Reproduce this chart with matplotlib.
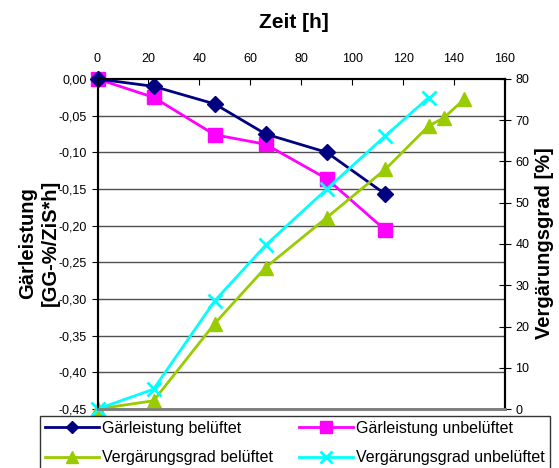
import matplotlib
matplotlib.use("Agg")
import matplotlib.pyplot as plt
from matplotlib.ticker import FuncFormatter, MultipleLocator

plt.rcParams['font.family'] = ['Liberation Sans', 'DejaVu Sans']

# Zeitpunkte [h]
zeit_gl = [0, 22, 46, 66, 90, 113]
gl_belueftet = [0.0, -0.010, -0.034, -0.075, -0.100, -0.157]
gl_unbelueftet = [0.0, -0.025, -0.076, -0.089, -0.136, -0.206]

zeit_vg_bel = [0, 22, 46, 66, 90, 113, 130, 136, 144]
vg_belueftet = [0.0, 2.0, 20.7, 34.3, 46.4, 58.1, 68.6, 70.6, 75.1]

zeit_vg_unbel = [0, 22, 46, 66, 90, 113, 130]
vg_unbelueftet = [0.0, 4.8, 26.2, 39.7, 53.3, 66.2, 75.5]

W, H = 559, 468
fig = plt.figure(figsize=(W / 100, H / 100), dpi=100)
ax = fig.add_axes([97.5 / W, 1 - 409 / H, (505 - 97.5) / W, (409 - 79) / H])
ax2 = ax.twinx()

# Gitterlinien
for y in [-0.05 * i for i in range(1, 10)]:
    ax.axhline(y, color='#505050', lw=1.0, zorder=0)

l1, = ax.plot(zeit_gl, gl_belueftet, color='#000080', lw=2, marker='D',
              ms=8, clip_on=False, zorder=3)
l2, = ax.plot(zeit_gl, gl_unbelueftet, color='#FF00FF', lw=2, marker='s',
              ms=10, clip_on=False, zorder=2)
l3, = ax2.plot(zeit_vg_bel, vg_belueftet, color='#99CC00', lw=2, marker='^',
               ms=10, clip_on=False)
l4, = ax2.plot(zeit_vg_unbel, vg_unbelueftet, color='#00FFFF', lw=2, marker='x',
               ms=10, mew=2, clip_on=False)

ax.set_xlim(0, 160)
ax.set_ylim(-0.45, 0.0)
ax2.set_ylim(0, 80)

ax.xaxis.tick_top()
ax.xaxis.set_major_locator(MultipleLocator(20))
ax.yaxis.set_major_locator(MultipleLocator(0.05))
ax.yaxis.set_major_formatter(FuncFormatter(lambda v, p: f"{v:.2f}".replace('.', ',')))
ax2.yaxis.set_major_locator(MultipleLocator(10))

ax.tick_params(axis='x', direction='in', length=4, labelsize=9, pad=10)
ax.tick_params(axis='y', direction='out', length=4, labelsize=9)
ax2.tick_params(axis='y', direction='inout', length=8, labelsize=9)

for a in (ax, ax2):
    a.spines['bottom'].set_color('#808080')
    a.spines['bottom'].set_linewidth(2)
    a.spines['left'].set_linewidth(1.5)
    a.spines['right'].set_linewidth(1.5)
    a.spines['top'].set_linewidth(1.5)

# Achsentitel
fig.text(294 / W, 1 - 22 / H, 'Zeit [h]', fontsize=15, fontweight='bold',
         ha='center', va='center')
fig.text(39 / W, 1 - 243 / H, 'Gärleistung\n[GG-%/ZiS*h]', fontsize=14.5,
         fontweight='bold', rotation=90, ha='center', va='center',
         linespacing=1.3, multialignment='center')
fig.text(545 / W, 1 - 243 / H, 'Vergärungsgrad [%]', fontsize=14.5,
         fontweight='bold', rotation=90, ha='center', va='center')

# Legende zeilenweise: matplotlib füllt spaltenweise
leg = fig.legend([l1, l3, l2, l4],
                 ['Gärleistung belüftet', 'Vergärungsgrad belüftet',
                  'Gärleistung unbelüftet', 'Vergärungsgrad unbelüftet'],
                 loc='upper left', bbox_to_anchor=(40 / W, 1 - 416 / H),
                 ncol=2, fontsize=11.5, frameon=True, fancybox=False,
                 handlelength=3.4, columnspacing=1.6, borderaxespad=0,
                 handletextpad=0.2, borderpad=0.3, labelspacing=0.9,
                 markerscale=0.8)
leg.get_frame().set_edgecolor('black')
leg.get_frame().set_linewidth(1)

fig.savefig('out.png', dpi=100)
